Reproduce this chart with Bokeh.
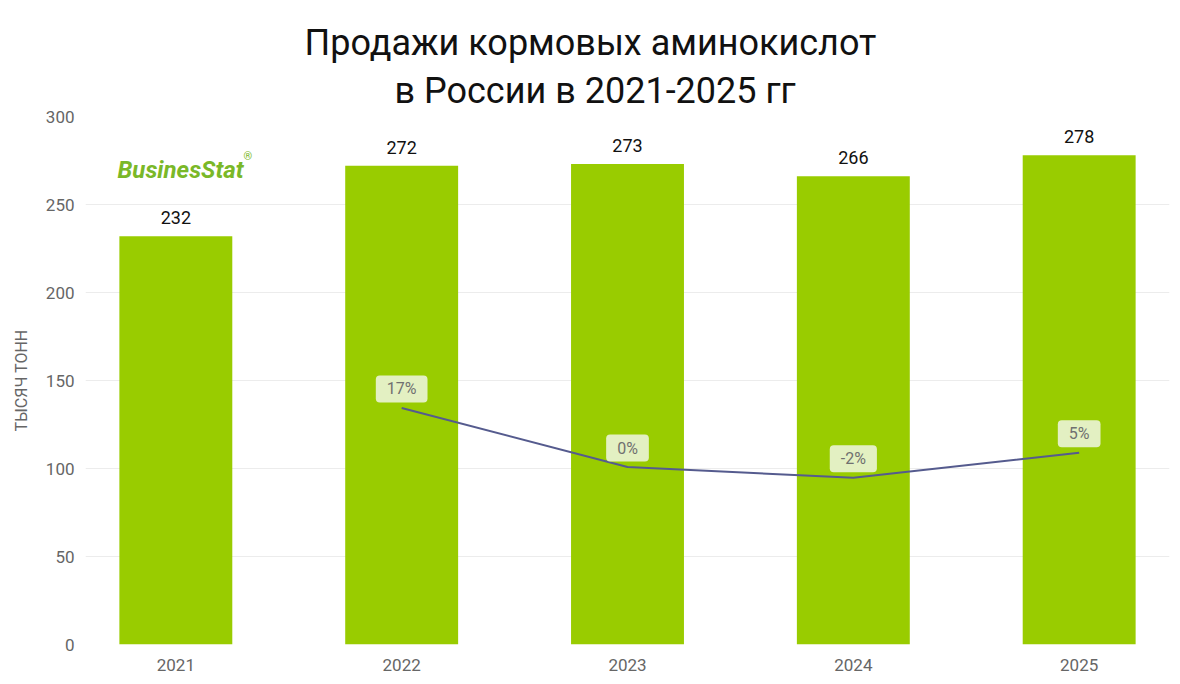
from bokeh.plotting import figure
from bokeh.models import Range1d, FixedTicker, ColumnDataSource, Label, Title
from bokeh.core.properties import value
from bokeh.embed import file_html
from bokeh.resources import INLINE

years = ["2021", "2022", "2023", "2024", "2025"]
sales = [232, 272, 273, 266, 278]
growth_years = ["2022", "2023", "2024", "2025"]
growth = [17.2, 0.4, -2.6, 4.5]
growth_labels = ["17%", "0%", "-2%", "5%"]
y_ticks = [0, 50, 100, 150, 200, 250, 300]
title_lines = ["Продажи кормовых аминокислот", "в России в 2021-2025 гг"]

FONT = "Roboto"
GREEN = "#99cc00"

xs = list(range(len(years)))
gx = [years.index(y) for y in growth_years]

p = figure(width=1171, height=676, output_backend="svg", toolbar_location=None,
           x_range=Range1d(-0.4, len(years) - 0.6), y_range=Range1d(0, 300),
           min_border_left=85, min_border_right=2, min_border_bottom=32, min_border_top=116)
p.extra_y_ranges = {"pct": Range1d(-50, 100)}

p.outline_line_color = None
p.background_fill_color = "white"

# titles: nearest to the frame is added first
p.add_layout(Title(text=title_lines[1], align="left", offset=309, standoff=9, text_font=FONT,
                   text_font_size="36px", text_font_style="normal", text_color="#111111"), "above")
p.add_layout(Title(text=title_lines[0], align="left", offset=219, standoff=0, text_font=FONT,
                   text_font_size="36px", text_font_style="normal", text_color="#111111"), "above")

src = ColumnDataSource(dict(x=xs, top=sales, lab=[str(v) for v in sales]))
p.vbar(x="x", top="top", width=0.5, bottom=0, source=src, color=GREEN, line_color=None)
p.text(x="x", y="top", text="lab", source=src, text_align="center", text_baseline="bottom",
       y_offset=-12, text_font=value(FONT), text_font_size="18px", text_color="#111111")

gsrc = ColumnDataSource(dict(x=gx, y=growth, lab=growth_labels))
p.line(x="x", y="y", source=gsrc, y_range_name="pct", line_color="#555b8e", line_width=2)
p.text(x="x", y="y", text="lab", source=gsrc, y_range_name="pct", text_align="center",
       text_baseline="middle", y_offset=-19, text_font=value(FONT), text_font_size="16px",
       text_color="#707070", background_fill_color="#e3f0c2", padding=(11, 4), border_radius=4)

# y axis
p.yaxis.ticker = FixedTicker(ticks=y_ticks)
p.yaxis.axis_line_color = None
p.yaxis.major_tick_line_color = None
p.yaxis.minor_tick_line_color = None
p.yaxis.major_label_text_font = FONT
p.yaxis.major_label_text_font_size = "17px"
p.yaxis.major_label_text_color = "#666666"
p.yaxis.major_label_standoff = 5
p.yaxis.axis_label = "ТЫСЯЧ ТОНН"
p.yaxis.axis_label_text_font = FONT
p.yaxis.axis_label_text_font_size = "16px"
p.yaxis.axis_label_text_font_style = "normal"
p.yaxis.axis_label_text_color = "#666666"
p.yaxis.axis_label_standoff = 12

# x axis
p.xaxis.ticker = FixedTicker(ticks=xs)
p.xaxis.major_label_overrides = {i: y for i, y in zip(xs, years)}
p.xaxis.axis_line_color = None
p.xaxis.major_tick_line_color = None
p.xaxis.minor_tick_line_color = None
p.xaxis.major_label_text_font = FONT
p.xaxis.major_label_text_font_size = "17px"
p.xaxis.major_label_text_color = "#666666"
p.xaxis.major_label_standoff = 8

p.xgrid.grid_line_color = None
p.ygrid.grid_line_color = "#ececec"
p.ygrid.ticker = FixedTicker(ticks=y_ticks)

# logo
p.add_layout(Label(x=32, y=475, x_units="screen", y_units="screen", text="BusinesStat",
                   text_baseline="alphabetic", text_font=FONT, text_font_size="24px",
                   text_font_style="bold italic", text_color="#7ab828"))
p.add_layout(Label(x=158, y=488, x_units="screen", y_units="screen", text="®",
                   text_baseline="alphabetic", text_font=FONT, text_font_size="11px",
                   text_color="#7ab828"))

open("out.html", "w").write(file_html(p, INLINE))
